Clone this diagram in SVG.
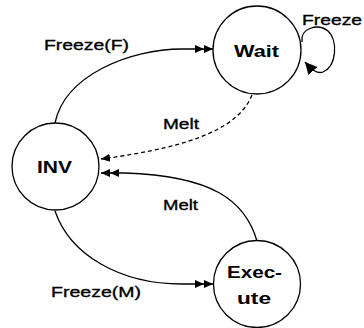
<svg xmlns="http://www.w3.org/2000/svg" width="364" height="328" viewBox="0 0 364 328">
  <style>
    .state { fill: #fff; stroke: #000; stroke-width: 1.3; }
    .name { font-family: "Liberation Sans", Arial, sans-serif; font-weight: bold; font-size: 17px; fill: #000; }
    .lbl { font-family: "Liberation Sans", Arial, sans-serif; font-size: 15px; fill: #000; stroke: #000; stroke-width: 0.35; }
    .edge { fill: none; stroke: #000; stroke-width: 1.3; }
    .dash { stroke-dasharray: 4 3; }
  </style>
  <defs>
    <marker id="dbl" markerUnits="userSpaceOnUse" markerWidth="22" markerHeight="12" refX="18" refY="5" orient="auto">
      <path d="M0,1 L9,5 L0,9 Z M9,1 L18,5 L9,9 Z" fill="#000"/>
    </marker>
    <marker id="single" markerUnits="userSpaceOnUse" markerWidth="12" markerHeight="12" refX="9" refY="5" orient="auto">
      <path d="M0,1 L9,5 L0,9 Z" fill="#000"/>
    </marker>
    <marker id="big" markerUnits="userSpaceOnUse" markerWidth="16" markerHeight="14" refX="12" refY="6" orient="auto">
      <path d="M0,0 L12,6 L0,12 Z" fill="#000"/>
    </marker>
  </defs>

  <g id="connectors">
    <!-- INV to Wait -->
    <path class="edge" d="M55,123 C65,75 130,49 182,49 L213,49" marker-end="url(#dbl)"/>
    <!-- Wait to INV (dashed) -->
    <path class="edge dash" d="M252,95 C240,125 200,146 101,159" marker-end="url(#single)"/>
    <!-- Execute to INV -->
    <path class="edge" d="M257,241 C245,200 212,176 125,173 L101,173" marker-end="url(#dbl)"/>
    <!-- INV to Execute -->
    <path class="edge" d="M55,211 C70,255 120,284 182,284 L213,284" marker-end="url(#dbl)"/>
    <!-- Wait self loop -->
    <path class="edge" d="M302,42 C300,28 318,23 328,31 C338,40 337,66 323,72 C317,74 312,70 305,62" marker-end="url(#big)"/>
  </g>

  <g id="labels">
    <text class="lbl" x="44" y="50" textLength="85" lengthAdjust="spacingAndGlyphs">Freeze(F)</text>
    <text class="lbl" x="163" y="129" textLength="36" lengthAdjust="spacingAndGlyphs">Melt</text>
    <text class="lbl" x="163" y="210" textLength="35" lengthAdjust="spacingAndGlyphs">Melt</text>
    <text class="lbl" x="51" y="297" textLength="90" lengthAdjust="spacingAndGlyphs">Freeze(M)</text>
    <text class="lbl" x="302" y="25" textLength="60" lengthAdjust="spacingAndGlyphs">Freeze</text>
  </g>

  <g id="wait">
    <circle class="state" cx="257" cy="50" r="44"/>
    <text class="name" x="234" y="57" textLength="45" lengthAdjust="spacingAndGlyphs">Wait</text>
  </g>
  <g id="inv">
    <circle class="state" cx="55.5" cy="166.5" r="43.5"/>
    <text class="name" x="37" y="173" textLength="35" lengthAdjust="spacingAndGlyphs">INV</text>
  </g>
  <g id="execute">
    <circle class="state" cx="257" cy="284" r="43.5"/>
    <text class="name" x="227" y="278" textLength="55" lengthAdjust="spacingAndGlyphs">Exec-</text>
    <text class="name" x="237" y="304" textLength="34" lengthAdjust="spacingAndGlyphs">ute</text>
  </g>
</svg>
